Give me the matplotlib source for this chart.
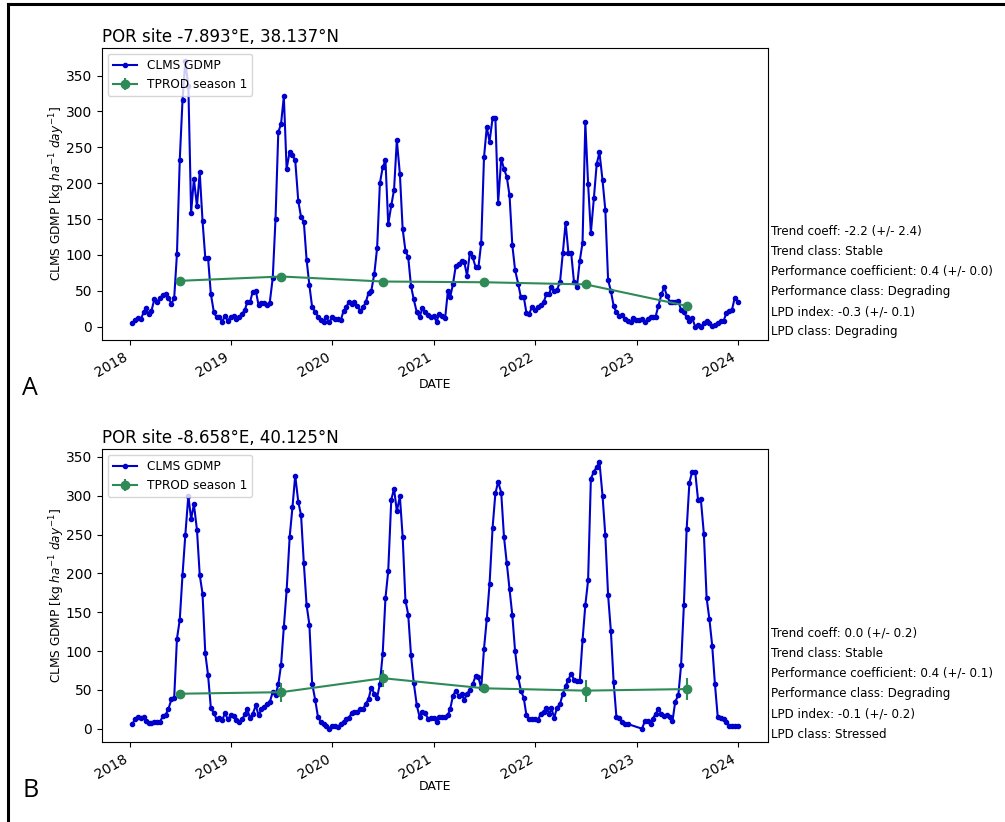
import numpy as np
import pandas as pd
import matplotlib
matplotlib.use("Agg")
import matplotlib.pyplot as plt
from matplotlib.lines import Line2D

# dekadal dates (end of each dekad: 10th, 20th, last day of month), 2018-2023
years = [2018, 2019, 2020, 2021, 2022, 2023]
dates = []
for y in years:
    for m in range(1, 13):
        dates += [pd.Timestamp(y, m, 10), pd.Timestamp(y, m, 20), pd.Timestamp(y, m, 1) + pd.offsets.MonthEnd(0)]

# site A - CLMS GDMP (kg/ha/day)
gdmp_a = [
    5, 9, 12, 11, 20, 26, 18, 22, 39, 35, 40, 44, 46, 40, 32, 40, 102, 232, 316, 370, 335, 159, 206, 168, 215, 148, 96, 96, 46, 20, 13, 13, 7, 15, 8, 14,
    15, 11, 14, 18, 24, 34, 34, 49, 50, 30, 33, 33, 30, 33, 68, 150, 271, 283, 321, 220, 244, 239, 232, 175, 153, 146, 93, 58, 27, 21, 14, 10, 7, 13, 6, 13,
    11, 11, 9, 22, 27, 35, 32, 34, 29, 22, 27, 34, 47, 50, 74, 110, 200, 222, 232, 143, 169, 191, 260, 213, 136, 106, 97, 57, 38, 20, 13, 26, 21, 17, 14, 15,
    7, 18, 15, 12, 50, 41, 59, 84, 88, 91, 90, 71, 103, 97, 83, 83, 117, 236, 278, 258, 291, 291, 173, 234, 220, 209, 183, 114, 79, 60, 41, 42, 19, 18, 28, 23,
    27, 30, 34, 46, 46, 56, 50, 51, 63, 103, 145, 103, 103, 63, 56, 92, 117, 285, 199, 131, 180, 227, 243, 204, 163, 65, 50, 29, 20, 15, 17, 11, 8, 7, 12, 10,
    10, 11, 6, 11, 14, 13, 14, 29, 45, 55, 43, 35, 35, 35, 36, 23, 21, 13, 8, 12, 0, 3, 0, 5, 8, 5, 1, 3, 5, 8, 8, 19, 22, 23, 40, 35,
]

# site B - CLMS GDMP, nan = missing dekad
nan = np.nan
gdmp_b = [
    6, 12, 15, 14, 15, 10, 7, 7, 9, 9, 9, 16, 18, 25, 38, 40, 116, 140, 198, 249, 300, 270, 289, 256, 198, 174, 97, 69, 27, 20, 12, 14, 11, 20, 12, 17,
    16, 11, 9, 12, 19, 25, 14, 19, 30, 17, 25, 28, 32, 34, 47, 43, 57, 82, 131, 178, 247, 285, 326, 292, 275, 213, 159, 134, 58, 37, 15, 9, 6, 4, 0, 4,
    3, 2, 6, 9, 12, 14, 20, 22, 22, 25, 25, 32, 38, 53, 45, 40, 58, 96, 168, 203, 295, 309, 280, 299, 247, 165, 147, 95, 59, 30, 15, 22, 20, 13, 14, 14,
    9, 15, 15, 15, 18, 25, 42, 49, 42, 45, 37, 45, 50, 57, 68, 66, 52, 103, 141, 186, 259, 303, 318, 304, 247, 213, 180, 146, 100, 67, 49, 40, 17, 12, 12, 12,
    11, 19, 22, 27, 19, 26, 14, 27, 32, 45, 55, 63, 71, 63, 62, 62, 114, 159, 191, 322, 331, 337, 343, 300, 249, 172, 126, 60, 15, 14, 9, 6, 6, nan, nan, nan,
    nan, 0, 10, 10, 6, 13, 19, 25, 19, 16, 18, 15, 10, 35, 43, 82, 159, 257, 317, 331, 330, 295, 296, 251, 168, 141, 107, 57, 15, 14, 13, 9, 4, 3, 3, 3,
]

# TPROD season 1 (mid-season dates)
tprod_dates = [pd.Timestamp(y, 7, 1) for y in years]
tprod_a = [64, 70, 63, 62, 59, 29]
tprod_a_err = [1, 1, 1, 1, 1, 3]
tprod_b = [45, 47, 65, 52, 49, 51]
tprod_b_err = [5, 12, 11, 4, 14, 14]

titles = ["POR site -7.893°E, 38.137°N", "POR site -8.658°E, 40.125°N"]
info_a = ["Trend coeff: -2.2 (+/- 2.4)", "Trend class: Stable",
          "Performance coefficient: 0.4 (+/- 0.0)", "Performance class: Degrading",
          "LPD index: -0.3 (+/- 0.1)", "LPD class: Degrading"]
info_b = ["Trend coeff: 0.0 (+/- 0.2)", "Trend class: Stable",
          "Performance coefficient: 0.4 (+/- 0.1)", "Performance class: Degrading",
          "LPD index: -0.1 (+/- 0.2)", "LPD class: Stressed"]
panel_letters = ["A", "B"]

W, H = 1005, 822
fig = plt.figure(figsize=(W / 100, H / 100), dpi=100)


def draw_panel(rect, gdmp, tprod, tprod_err, title, info, letter):
    ax = fig.add_axes(rect)
    s = pd.Series(gdmp, index=dates).dropna()
    ax.plot(s.index, s.values, ".-", color="mediumblue", markersize=6, linewidth=1.5, label="CLMS GDMP")
    ax.errorbar(tprod_dates, tprod, yerr=tprod_err, fmt="o-", color="seagreen", markersize=6,
                linewidth=1.5, label="TPROD season 1")
    ax.set_title(title, loc="left", fontsize=12, pad=4)
    ax.set_xlabel("DATE", fontsize=9, labelpad=-1)
    ax.set_ylabel(r"CLMS GDMP [kg $ha^{-1}$ $day^{-1}$]", fontsize=8.7, labelpad=-1)
    ax.legend(loc="upper left", fontsize=8.7)
    plt.setp(ax.get_xticklabels(), rotation=30, ha="right")
    # stats text right of the axes, bottom line near the axes bottom
    x0 = rect[0] + rect[2] + 3 / W
    bottom_px = (1 - rect[1]) * H - 8
    for k, line in enumerate(info):
        y_px = bottom_px - (len(info) - 1 - k) * 20.2
        fig.text(x0, 1 - y_px / H, line, fontsize=8.6, va="center", ha="left")
    fig.text(22 / W, rect[1] - 48 / H, letter, fontsize=18, family="Open Sans", va="center", ha="left")
    return ax


draw_panel([102 / W, 1 - 340 / H, 666 / W, 292 / H], gdmp_a, tprod_a, tprod_a_err, titles[0], info_a, panel_letters[0])
draw_panel([102 / W, 1 - 742 / H, 666 / W, 293 / H], gdmp_b, tprod_b, tprod_b_err, titles[1], info_b, panel_letters[1])

# frame lines (left and top) around the figure
fig.add_artist(Line2D([7.5 / W, 7.5 / W], [0, 1 - 4.5 / H], color="black", linewidth=2.2, transform=fig.transFigure))
fig.add_artist(Line2D([7.5 / W, 1], [1 - 4.5 / H, 1 - 4.5 / H], color="black", linewidth=2.2, transform=fig.transFigure))

fig.savefig("out.png", dpi=100)
